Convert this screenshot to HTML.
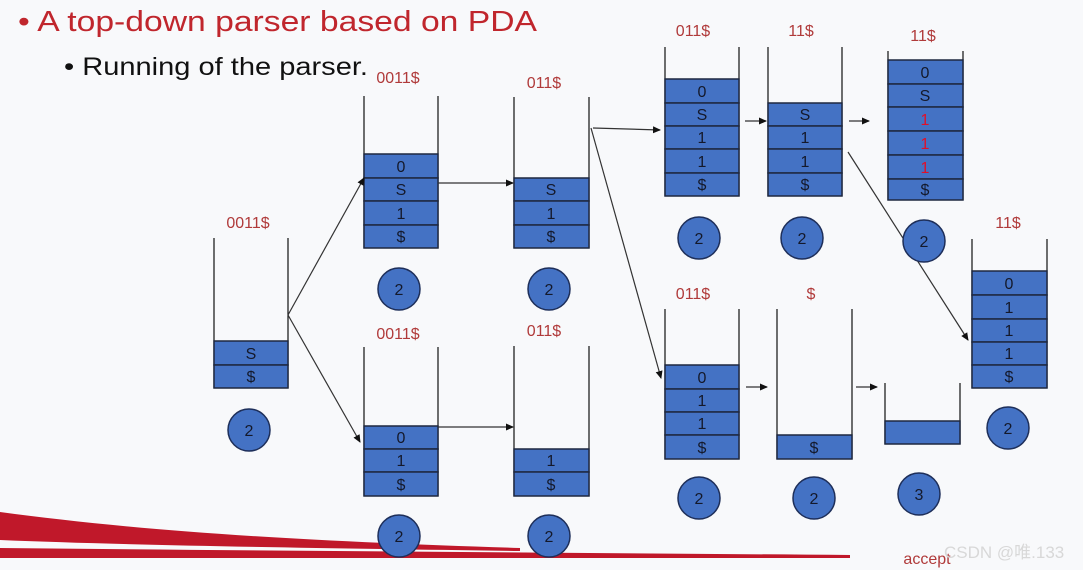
<!DOCTYPE html>
<html><head><meta charset="utf-8"><style>
html,body{margin:0;padding:0;background:#f8f9fb;}
svg{display:block;font-family:"Liberation Sans",Arial,sans-serif;}
.t{font-family:"Liberation Sans","DejaVu Sans",sans-serif;}
</style></head><body>
<svg width="1083" height="570" viewBox="0 0 1083 570" xmlns="http://www.w3.org/2000/svg">
<defs><marker id="a" markerWidth="8" markerHeight="8" refX="7" refY="4" orient="auto" markerUnits="userSpaceOnUse"><path d="M0,0.5 L8,4 L0,7.5 z" fill="#111"/></marker></defs>
<rect width="1083" height="570" fill="#f8f9fb"/>
<path d="M0,512 C120,528 260,540 520,548 L520,551 C300,548 120,545 0,540 Z" fill="#c0182a"/>
<path d="M0,548 C300,551 600,553 850,555 L850,558 C600,558 300,558 0,558 Z" fill="#c0182a"/>
<text x="18" y="31" font-size="29" fill="#c0262d" class="t" textLength="519" lengthAdjust="spacingAndGlyphs">• A top-down parser based on PDA</text>
<text x="64" y="75" font-size="25" fill="#111" class="t" textLength="304" lengthAdjust="spacingAndGlyphs">• Running of the parser.</text>
<g font-size="16" fill="#b03a3a" text-anchor="middle">
<text x="248" y="228">0011$</text><text x="398" y="83">0011$</text><text x="544" y="88">011$</text>
<text x="398" y="339">0011$</text><text x="544" y="336">011$</text><text x="693" y="36">011$</text>
<text x="801" y="36">11$</text><text x="923" y="41">11$</text><text x="1008" y="228">11$</text>
<text x="693" y="299">011$</text><text x="811" y="299">$</text><text x="927" y="564">accept</text>
</g>
<g stroke="#111" stroke-width="1.2" fill="none">
<path d="M214,238V388M288,238V388M364,96V248M438,96V248M514,97V248M589,97V248M364,347V496M438,347V496M514,346V496M589,346V496M665,47V196M739,47V196M768,47V196M842,47V196M888,51V200M963,51V200M972,239V388M1047,239V388M665,309V459M739,309V459M777,309V459M852,309V459M885,383V444M960,383V444"/>
</g>
<g fill="#4472c4" stroke="#1e2840" stroke-width="1.5">
<rect x="214" y="341" width="74" height="24"/><rect x="214" y="365" width="74" height="23"/>
<rect x="364" y="154" width="74" height="24"/><rect x="364" y="178" width="74" height="23"/><rect x="364" y="201" width="74" height="24"/><rect x="364" y="225" width="74" height="23"/>
<rect x="514" y="178" width="75" height="23"/><rect x="514" y="201" width="75" height="24"/><rect x="514" y="225" width="75" height="23"/>
<rect x="364" y="426" width="74" height="23"/><rect x="364" y="449" width="74" height="23"/><rect x="364" y="472" width="74" height="24"/>
<rect x="514" y="449" width="75" height="23"/><rect x="514" y="472" width="75" height="24"/>
<rect x="665" y="79" width="74" height="24"/><rect x="665" y="103" width="74" height="23"/><rect x="665" y="126" width="74" height="23"/><rect x="665" y="149" width="74" height="24"/><rect x="665" y="173" width="74" height="23"/>
<rect x="768" y="103" width="74" height="23"/><rect x="768" y="126" width="74" height="23"/><rect x="768" y="149" width="74" height="24"/><rect x="768" y="173" width="74" height="23"/>
<rect x="888" y="60" width="75" height="24"/><rect x="888" y="84" width="75" height="23"/><rect x="888" y="107" width="75" height="24"/><rect x="888" y="131" width="75" height="24"/><rect x="888" y="155" width="75" height="24"/><rect x="888" y="179" width="75" height="21"/>
<rect x="972" y="271" width="75" height="24"/><rect x="972" y="295" width="75" height="24"/><rect x="972" y="319" width="75" height="23"/><rect x="972" y="342" width="75" height="23"/><rect x="972" y="365" width="75" height="23"/>
<rect x="665" y="365" width="74" height="24"/><rect x="665" y="389" width="74" height="23"/><rect x="665" y="412" width="74" height="23"/><rect x="665" y="435" width="74" height="24"/>
<rect x="777" y="435" width="75" height="24"/>
<rect x="885" y="421" width="75" height="23"/>
</g>
<g font-size="16" fill="#14192b" text-anchor="middle">
<text x="251" y="359">S</text><text x="251" y="382">$</text>
<text x="401" y="172">0</text><text x="401" y="195">S</text><text x="401" y="219">1</text><text x="401" y="242">$</text>
<text x="551" y="195">S</text><text x="551" y="219">1</text><text x="551" y="242">$</text>
<text x="401" y="443">0</text><text x="401" y="466">1</text><text x="401" y="490">$</text>
<text x="551" y="466">1</text><text x="551" y="490">$</text>
<text x="702" y="97">0</text><text x="702" y="120">S</text><text x="702" y="143">1</text><text x="702" y="167">1</text><text x="702" y="190">$</text>
<text x="805" y="120">S</text><text x="805" y="143">1</text><text x="805" y="167">1</text><text x="805" y="190">$</text>
<text x="925" y="78">0</text><text x="925" y="101">S</text><text x="925" y="125" fill="#e0102a">1</text><text x="925" y="149" fill="#e0102a">1</text><text x="925" y="173" fill="#e0102a">1</text><text x="925" y="195">$</text>
<text x="1009" y="289">0</text><text x="1009" y="313">1</text><text x="1009" y="336">1</text><text x="1009" y="359">1</text><text x="1009" y="382">$</text>
<text x="702" y="383">0</text><text x="702" y="406">1</text><text x="702" y="429">1</text><text x="702" y="453">$</text>
<text x="814" y="453">$</text>
</g>
<g stroke="#333" stroke-width="1.2" marker-end="url(#a)">
<line x1="288" y1="315" x2="364" y2="178"/><line x1="288" y1="315" x2="360" y2="442"/>
<line x1="438" y1="183" x2="513" y2="183"/><line x1="438" y1="427" x2="513" y2="427"/>
<line x1="593" y1="128" x2="660" y2="130"/><line x1="591" y1="128" x2="661" y2="378"/>
<line x1="745" y1="121" x2="766" y2="121"/><line x1="849" y1="121" x2="869" y2="121"/>
<line x1="848" y1="152" x2="968" y2="340"/>
<line x1="746" y1="387" x2="767" y2="387"/><line x1="856" y1="387" x2="877" y2="387"/>
</g>
<g fill="#4472c4" stroke="#1e2f5a" stroke-width="1.5">
<ellipse cx="249" cy="430" rx="21" ry="21"/><ellipse cx="399" cy="289" rx="21" ry="21"/><ellipse cx="549" cy="289" rx="21" ry="21"/>
<ellipse cx="399" cy="536" rx="21" ry="21"/><ellipse cx="549" cy="536" rx="21" ry="21"/>
<ellipse cx="699" cy="238" rx="21" ry="21"/><ellipse cx="802" cy="238" rx="21" ry="21"/><ellipse cx="924" cy="241" rx="21" ry="21"/>
<ellipse cx="1008" cy="428" rx="21" ry="21"/><ellipse cx="699" cy="498" rx="21" ry="21"/><ellipse cx="814" cy="498" rx="21" ry="21"/><ellipse cx="919" cy="494" rx="21" ry="21"/>
</g>
<g font-size="16" fill="#14192b" text-anchor="middle">
<text x="249" y="436">2</text><text x="399" y="295">2</text><text x="549" y="295">2</text><text x="399" y="542">2</text><text x="549" y="542">2</text>
<text x="699" y="244">2</text><text x="802" y="244">2</text><text x="924" y="247">2</text><text x="1008" y="434">2</text><text x="699" y="504">2</text><text x="814" y="504">2</text><text x="919" y="500">3</text>
</g>
<text x="944" y="558" font-size="17" fill="#d8d8d8" class="t" style="font-family:'Liberation Sans','Noto Sans CJK SC',sans-serif">CSDN @唯.133</text>
</svg>
</body></html>
